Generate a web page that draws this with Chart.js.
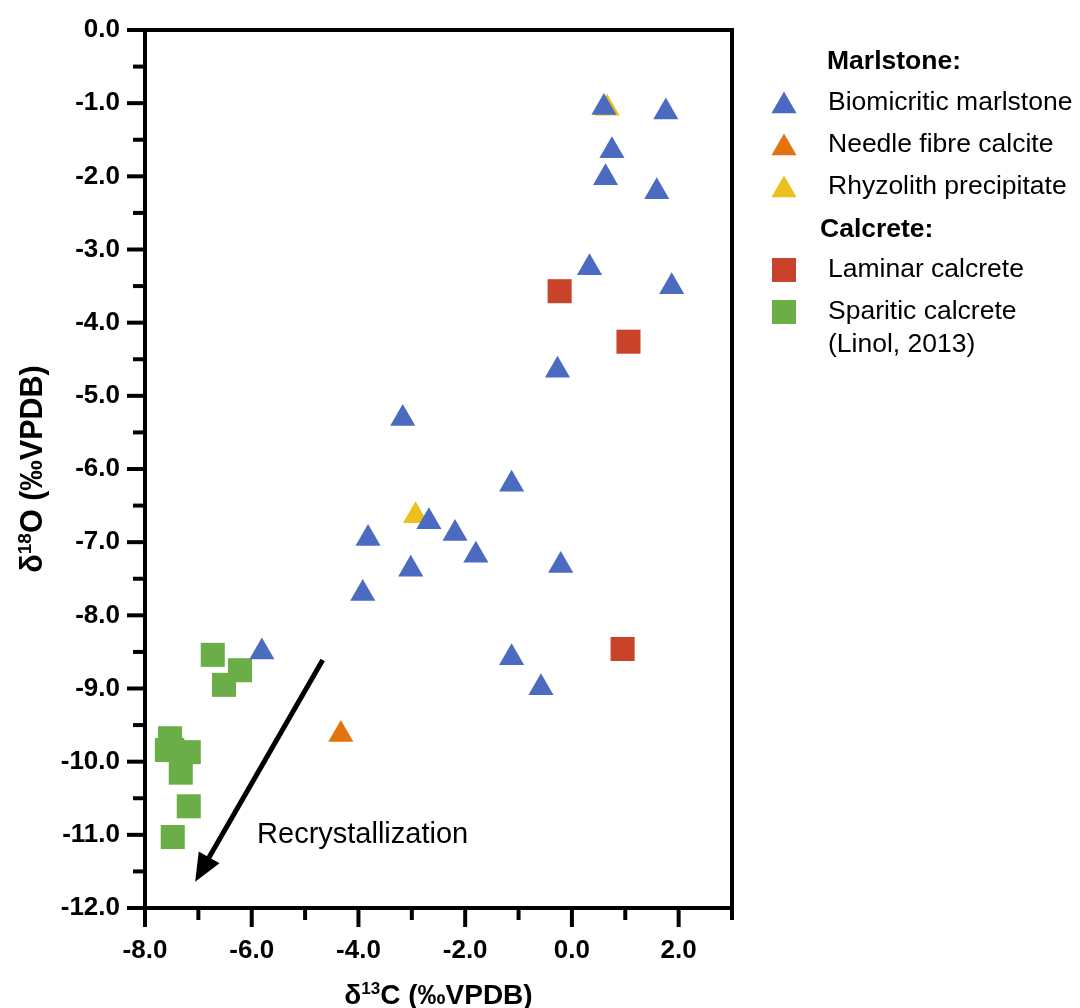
<!DOCTYPE html>
<html>
<head>
<meta charset="utf-8">
<title>Carbon and oxygen isotopes</title>
<script src="https://cdn.jsdelivr.net/npm/chart.js@4.4.1/dist/chart.umd.min.js"></script>
<style>
html, body { margin: 0; padding: 0; background: #fff; }
#box { position: relative; width: 1080px; height: 1008px; }
</style>
</head>
<body>
<div id="box"><canvas id="chart"></canvas></div>
<script>
const FONT = '"Liberation Sans", Arial, Helvetica, sans-serif';

// values (d13C, d18O in permil VPDB)
const bioX = [0.60, 1.76, 0.75, 0.63, 1.59, 0.33, 1.87, -0.27, -3.17, -1.13, -2.68, -2.19, -3.82, -1.80, -0.21, -3.02, -3.92, -5.81, -1.13, -0.58];
const bioY = [-1.06, -1.12, -1.65, -2.02, -2.21, -3.25, -3.51, -4.65, -5.31, -6.21, -6.72, -6.88, -6.95, -7.18, -7.32, -7.37, -7.70, -8.50, -8.58, -8.99];
const needleX = [-4.33];
const needleY = [-9.63];
const rhyzoX = [0.66, -2.93];
const rhyzoY = [-1.07, -6.64];
const laminarX = [-0.23, 1.06, 0.95];
const laminarY = [-3.57, -4.26, -8.46];
const sparX = [-6.73, -6.22, -6.52, -7.53, -7.59, -7.49, -7.18, -7.33, -7.18, -7.48];
const sparY = [-8.54, -8.75, -8.95, -9.68, -9.84, -9.84, -9.87, -10.15, -10.61, -11.03];

const xTicks = [-8, -7, -6, -5, -4, -3, -2, -1, 0, 1, 2, 3];
const yTicks = [0, -0.5, -1, -1.5, -2, -2.5, -3, -3.5, -4, -4.5, -5, -5.5, -6, -6.5, -7, -7.5, -8, -8.5, -9, -9.5, -10, -10.5, -11, -11.5, -12];

const groupNames = ['Marlstone:', 'Calcrete:'];
const seriesNames = [['Biomicritic marlstone'], ['Needle fibre calcite'], ['Rhyzolith precipitate'], ['Laminar calcrete'], ['Sparitic calcrete', '(Linol, 2013)']];

// arrow annotation, in data units
const arrowFrom = [-4.67, -8.61];
const arrowTo = [-7.06, -11.64];
const arrowText = 'Recrystallization';
const arrowTextAt = [-5.90, -11.0];

const BLUE = '#4b6bc1', ORANGE = '#e2730f', YELLOW = '#ecbf1d', RED = '#c8432a', GREEN = '#6bae47';
const TRI_R = 14.5, SQ_R = 17;

const pts = (xs, ys) => xs.map((x, i) => ({ x: x, y: ys[i] }));

function line(ctx, x1, y1, x2, y2) {
  ctx.beginPath(); ctx.moveTo(x1, y1); ctx.lineTo(x2, y2); ctx.stroke();
}

// same shapes chart.js uses for 'triangle' and 'rect'
function marker(ctx, style, color, x, y) {
  ctx.fillStyle = color;
  ctx.beginPath();
  if (style === 'triangle') {
    let a = 0;
    for (let i = 0; i < 3; i++) {
      const px = x + Math.sin(a) * TRI_R, py = y - Math.cos(a) * TRI_R;
      if (i) ctx.lineTo(px, py); else ctx.moveTo(px, py);
      a += 2 * Math.PI / 3;
    }
    ctx.closePath();
  } else {
    const s = SQ_R * Math.SQRT1_2;
    ctx.rect(x - s, y - s, 2 * s, 2 * s);
  }
  ctx.fill();
}

// text with a superscript part, centred on (0,0) of current transform
function supTitle(ctx, before, sup, after, size) {
  const big = 'bold ' + size + 'px ' + FONT, small = 'bold ' + Math.round(size * 0.62) + 'px ' + FONT;
  ctx.font = big; const w1 = ctx.measureText(before).width, w3 = ctx.measureText(after).width;
  ctx.font = small; const w2 = ctx.measureText(sup).width;
  let x = -(w1 + w2 + w3) / 2;
  ctx.textBaseline = 'alphabetic'; ctx.textAlign = 'left'; ctx.fillStyle = '#000';
  const base = size * 0.36;
  ctx.font = big; ctx.fillText(before, x, base); x += w1;
  ctx.font = small; ctx.fillText(sup, x, base - size * 0.36); x += w2;
  ctx.font = big; ctx.fillText(after, x, base);
}

const decor = {
  id: 'decor',
  beforeDatasetsDraw(chart) {
    const { ctx, chartArea: a, scales: { x, y } } = chart;
    ctx.save();
    ctx.strokeStyle = '#000';
    ctx.lineWidth = 4;
    ctx.strokeRect(a.left, a.top, a.right - a.left, a.bottom - a.top);
    xTicks.forEach(v => {
      const p = x.getPixelForValue(v);
      line(ctx, p, a.bottom, p, a.bottom + (v % 2 === 0 ? 19 : 12));
    });
    yTicks.forEach(v => {
      const p = y.getPixelForValue(v);
      line(ctx, a.left - (Number.isInteger(v) ? 18 : 12), p, a.left, p);
    });
    ctx.restore();
  },
  afterDraw(chart) {
    const { ctx, chartArea: a, scales: { x, y } } = chart;
    ctx.save();

    // arrow
    const x1 = x.getPixelForValue(arrowFrom[0]), y1 = y.getPixelForValue(arrowFrom[1]);
    const x2 = x.getPixelForValue(arrowTo[0]), y2 = y.getPixelForValue(arrowTo[1]);
    const ang = Math.atan2(y2 - y1, x2 - x1), head = 28, half = 12;
    const bx = x2 - Math.cos(ang) * head, by = y2 - Math.sin(ang) * head;
    ctx.strokeStyle = '#000'; ctx.lineWidth = 5;
    line(ctx, x1, y1, bx + Math.cos(ang) * 4, by + Math.sin(ang) * 4);
    ctx.fillStyle = '#000';
    ctx.beginPath();
    ctx.moveTo(x2, y2);
    ctx.lineTo(bx - Math.sin(ang) * half, by + Math.cos(ang) * half);
    ctx.lineTo(bx + Math.sin(ang) * half, by - Math.cos(ang) * half);
    ctx.closePath(); ctx.fill();

    ctx.font = '29px ' + FONT; ctx.textAlign = 'left'; ctx.textBaseline = 'middle';
    ctx.fillText(arrowText, x.getPixelForValue(arrowTextAt[0]), y.getPixelForValue(arrowTextAt[1]));

    // axis titles
    ctx.save(); ctx.translate((a.left + a.right) / 2, 994);
    supTitle(ctx, 'δ', '13', 'C (‰VPDB)', 28); ctx.restore();
    ctx.save(); ctx.translate(31, (a.top + a.bottom) / 2); ctx.rotate(-Math.PI / 2);
    supTitle(ctx, 'δ', '18', 'O (‰VPDB)', 30.5); ctx.restore();

    // legend
    const lx = 784, tx = 828;
    ctx.fillStyle = '#000'; ctx.textAlign = 'left'; ctx.textBaseline = 'middle';
    ctx.font = 'bold 26.5px ' + FONT;
    ctx.fillText(groupNames[0], 827, 62);
    ctx.fillText(groupNames[1], 820, 230);
    const rows = [
      { y: 103, style: 'triangle', color: BLUE },
      { y: 145, style: 'triangle', color: ORANGE },
      { y: 187, style: 'triangle', color: YELLOW },
      { y: 270, style: 'rect', color: RED },
      { y: 312, style: 'rect', color: GREEN }
    ];
    rows.forEach((r, i) => {
      marker(ctx, r.style, r.color, lx, r.style === 'triangle' ? r.y + 3 : r.y);
      ctx.fillStyle = '#000'; ctx.font = '26.5px ' + FONT;
      seriesNames[i].forEach((t, k) => ctx.fillText(t, tx, r.y + k * 33));
    });
    ctx.restore();
  }
};

const tickFont = { family: FONT, size: 26, weight: 'bold' };

new Chart(document.getElementById('chart'), {
  type: 'scatter',
  data: {
    datasets: [
      { label: seriesNames[0][0], data: pts(bioX, bioY), pointStyle: 'triangle', pointRadius: TRI_R, backgroundColor: BLUE, borderWidth: 0, order: 0 },
      { label: seriesNames[1][0], data: pts(needleX, needleY), pointStyle: 'triangle', pointRadius: TRI_R, backgroundColor: ORANGE, borderWidth: 0, order: 2 },
      { label: seriesNames[2][0], data: pts(rhyzoX, rhyzoY), pointStyle: 'triangle', pointRadius: TRI_R, backgroundColor: YELLOW, borderWidth: 0, order: 3 },
      { label: seriesNames[3][0], data: pts(laminarX, laminarY), pointStyle: 'rect', pointRadius: SQ_R, backgroundColor: RED, borderWidth: 0, order: 1 },
      { label: seriesNames[4].join(' '), data: pts(sparX, sparY), pointStyle: 'rect', pointRadius: SQ_R, backgroundColor: GREEN, borderWidth: 0, order: 1 }
    ]
  },
  options: {
    responsive: true,
    maintainAspectRatio: false,
    animation: false,
    layout: { padding: { top: 30, right: 348, left: 0, bottom: 0 } },
    plugins: { legend: { display: false }, tooltip: { enabled: false } },
    scales: {
      x: {
        type: 'linear', min: -8, max: 3,
        border: { display: false },
        grid: { display: false, drawTicks: false },
        ticks: {
          stepSize: 1, autoSkip: false, maxRotation: 0, padding: 27,
          font: tickFont, color: '#000',
          callback: v => (v % 2 === 0 ? v.toFixed(1) : '')
        },
        afterFit: s => { s.height = 100; s.paddingLeft = 0; s.paddingRight = 0; }
      },
      y: {
        type: 'linear', min: -12, max: 0,
        border: { display: false },
        grid: { display: false, drawTicks: false },
        ticks: {
          stepSize: 0.5, autoSkip: false, padding: 25,
          font: tickFont, color: '#000',
          callback: v => (Number.isInteger(v) ? v.toFixed(1) : '')
        },
        afterFit: s => { s.width = 145; s.paddingTop = 0; s.paddingBottom = 0; }
      }
    }
  },
  plugins: [decor]
});
</script>
</body>
</html>
